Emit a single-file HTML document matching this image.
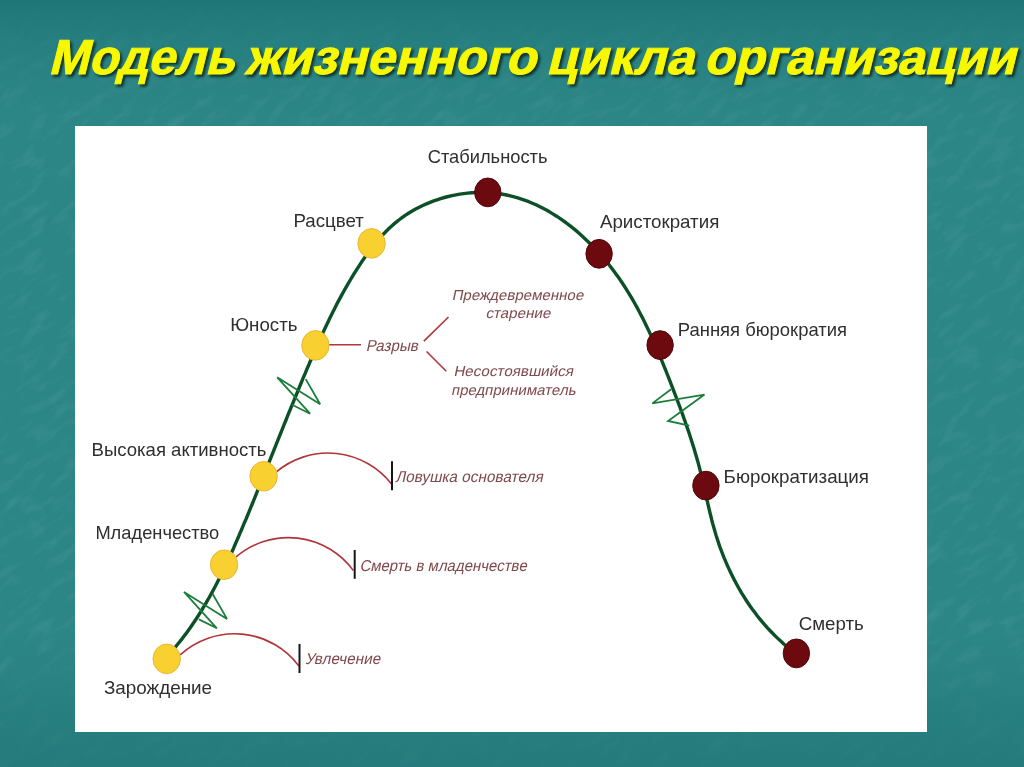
<!DOCTYPE html>
<html><head><meta charset="utf-8"><style>
html,body{margin:0;padding:0;}
body{width:1024px;height:767px;overflow:hidden;position:relative;background:#2c8686;font-family:"Liberation Sans",sans-serif;}
svg{position:absolute;left:0;top:0;will-change:transform;}
</style></head><body>
<svg width="1024" height="767" viewBox="0 0 1024 767" font-family="Liberation Sans, sans-serif">
<defs>
<filter id="tsh" x="-5%" y="-20%" width="110%" height="140%"><feGaussianBlur stdDeviation="0.9"/></filter>
<linearGradient id="bgv" x1="0" y1="0" x2="0" y2="1">
<stop offset="0" stop-color="#1d7474" stop-opacity="0.9"/>
<stop offset="0.06" stop-color="#217878" stop-opacity="0.5"/>
<stop offset="0.16" stop-color="#2e8080" stop-opacity="0"/>
<stop offset="0.82" stop-color="#2e8080" stop-opacity="0"/>
<stop offset="0.92" stop-color="#257a7a" stop-opacity="0.6"/>
<stop offset="1" stop-color="#237878" stop-opacity="0.8"/>
</linearGradient>
<filter id="tex" x="0" y="0" width="100%" height="100%">
<feTurbulence type="fractalNoise" baseFrequency="0.035 0.11" numOctaves="4" seed="3" result="n"/>
<feColorMatrix in="n" type="matrix" values="0 0 0 0 1  0 0 0 0 1  0 0 0 0 1  0 0 2.2 0 -1.05" result="w"/>
<feComposite in="w" in2="SourceGraphic" operator="in"/>
</filter>
</defs>
<rect x="0" y="0" width="1024" height="767" fill="#2c8686"/>
<g transform="rotate(-35 512 383)"><rect x="-400" y="-400" width="1824" height="1567" fill="#fff" filter="url(#tex)" opacity="0.065"/></g>
<rect x="0" y="0" width="1024" height="767" fill="url(#bgv)"/>
<text transform="translate(50.4,76.6) skewX(-14)" x="0" y="0" textLength="186.0" lengthAdjust="spacingAndGlyphs" font-size="49" font-weight="bold" fill="#0c2824" stroke="#0c2824" stroke-width="1.0" filter="url(#tsh)" opacity="0.85">Модель</text>
<text transform="translate(48.2,74.4) skewX(-14)" x="0" y="0" textLength="186.0" lengthAdjust="spacingAndGlyphs" font-size="49" font-weight="bold" fill="#f8f800" stroke="#f8f800" stroke-width="1.0">Модель</text>
<text transform="translate(247.2,76.6) skewX(-14)" x="0" y="0" textLength="290.6" lengthAdjust="spacingAndGlyphs" font-size="49" font-weight="bold" fill="#0c2824" stroke="#0c2824" stroke-width="1.0" filter="url(#tsh)" opacity="0.85">жизненного</text>
<text transform="translate(245.0,74.4) skewX(-14)" x="0" y="0" textLength="290.6" lengthAdjust="spacingAndGlyphs" font-size="49" font-weight="bold" fill="#f8f800" stroke="#f8f800" stroke-width="1.0">жизненного</text>
<text transform="translate(548.0,76.6) skewX(-14)" x="0" y="0" textLength="147.6" lengthAdjust="spacingAndGlyphs" font-size="49" font-weight="bold" fill="#0c2824" stroke="#0c2824" stroke-width="1.0" filter="url(#tsh)" opacity="0.85">цикла</text>
<text transform="translate(545.8,74.4) skewX(-14)" x="0" y="0" textLength="147.6" lengthAdjust="spacingAndGlyphs" font-size="49" font-weight="bold" fill="#f8f800" stroke="#f8f800" stroke-width="1.0">цикла</text>
<text transform="translate(705.8,76.6) skewX(-14)" x="0" y="0" textLength="311.4" lengthAdjust="spacingAndGlyphs" font-size="49" font-weight="bold" fill="#0c2824" stroke="#0c2824" stroke-width="1.0" filter="url(#tsh)" opacity="0.85">организации</text>
<text transform="translate(703.6,74.4) skewX(-14)" x="0" y="0" textLength="311.4" lengthAdjust="spacingAndGlyphs" font-size="49" font-weight="bold" fill="#f8f800" stroke="#f8f800" stroke-width="1.0">организации</text>
<rect x="75" y="126" width="852" height="606" fill="#ffffff"/>
<path d="M276,472.2 A80.5,80.5 0 0 1 391.5,484" fill="none" stroke="#b03539" stroke-width="1.6"/>
<line x1="392" y1="461.2" x2="392" y2="490.2" stroke="#151515" stroke-width="2"/>
<path d="M236.1,556.9 A80.5,80.5 0 0 1 353.4,570.6" fill="none" stroke="#b03539" stroke-width="1.6"/>
<line x1="354.7" y1="550" x2="354.7" y2="578.8" stroke="#151515" stroke-width="2"/>
<path d="M180.2,654.8 A80.5,80.5 0 0 1 298.9,666" fill="none" stroke="#b03539" stroke-width="1.6"/>
<line x1="299.5" y1="643.9" x2="299.5" y2="673" stroke="#151515" stroke-width="2"/>
<line x1="328" y1="344.7" x2="361" y2="344.7" stroke="#b03539" stroke-width="1.6"/>
<line x1="423.9" y1="341.1" x2="448.5" y2="317" stroke="#b03539" stroke-width="1.6"/>
<line x1="426.6" y1="351.5" x2="446.3" y2="371.2" stroke="#b03539" stroke-width="1.6"/>
<path d="M165.4,658.3 L168.1,655.3 L170.8,652.4 L173.4,649.3 L176.0,646.3 L178.5,643.2 L181.0,640.2 L183.4,637.0 L185.8,633.9 L188.1,630.7 L190.4,627.5 L192.6,624.2 L194.8,621.0 L197.0,617.7 L199.1,614.4 L201.2,611.1 L203.2,607.7 L205.3,604.3 L207.2,600.9 L209.2,597.5 L211.1,594.1 L213.0,590.6 L214.8,587.2 L216.6,583.7 L218.4,580.2 L220.2,576.7 L221.9,573.1 L223.7,569.6 L225.4,566.0 L227.0,562.5 L228.7,558.9 L230.3,555.3 L232.0,551.7 L233.6,548.1 L235.1,544.5 L236.7,540.9 L238.3,537.3 L239.8,533.6 L241.4,530.0 L242.9,526.4 L244.4,522.7 L246.0,519.1 L247.5,515.5 L249.0,511.8 L250.5,508.2 L252.0,504.5 L253.5,500.9 L255.0,497.2 L256.4,493.6 L257.9,489.9 L259.4,486.3 L260.9,482.6 L262.3,479.0 L263.8,475.3 L265.3,471.7 L266.7,468.0 L268.2,464.4 L269.7,460.7 L271.1,457.1 L272.6,453.4 L274.0,449.8 L275.5,446.1 L277.0,442.4 L278.4,438.8 L279.9,435.1 L281.4,431.5 L282.8,427.8 L284.3,424.2 L285.8,420.5 L287.2,416.9 L288.7,413.2 L290.2,409.6 L291.7,405.9 L293.2,402.3 L294.7,398.6 L296.2,395.0 L297.7,391.3 L299.2,387.7 L300.7,384.0 L302.2,380.4 L303.7,376.7 L305.3,373.1 L306.8,369.4 L308.4,365.8 L309.9,362.2 L311.5,358.5 L313.1,354.9 L314.7,351.2 L316.3,347.6 L317.9,344.0 L319.5,340.4 L321.1,336.8 L322.8,333.1 L324.4,329.5 L326.1,326.0 L327.8,322.4 L329.5,318.8 L331.3,315.2 L333.0,311.7 L334.8,308.2 L336.6,304.6 L338.4,301.1 L340.3,297.6 L342.2,294.2 L344.1,290.7 L346.0,287.3 L348.0,283.9 L350.0,280.5 L352.0,277.1 L354.1,273.7 L356.2,270.4 L358.3,267.1 L360.4,263.8 L362.6,260.5 L364.9,257.3 L367.1,254.1 L369.5,250.9 L371.8,247.8 L374.2,244.7 L376.7,241.7 L379.3,238.7 L381.8,235.8 L384.5,233.0 L387.2,230.2 L390.0,227.5 L392.9,224.9 L395.9,222.4 L398.9,220.0 L402.0,217.7 L405.2,215.4 L408.5,213.3 L411.8,211.3 L415.2,209.3 L418.7,207.5 L422.2,205.7 L425.8,204.1 L429.5,202.6 L433.1,201.1 L436.9,199.8 L440.6,198.6 L444.4,197.5 L448.2,196.5 L452.1,195.6 L455.9,194.8 L459.8,194.1 L463.7,193.6 L467.6,193.1 L471.6,192.8 L475.5,192.6 L479.4,192.5 L483.3,192.5 L487.3,192.6 L491.2,192.8 L495.0,193.2 L498.9,193.7 L502.7,194.3 L506.6,195.0 L510.3,195.9 L514.1,196.8 L517.8,197.9 L521.5,199.1 L525.2,200.4 L528.8,201.7 L532.4,203.2 L536.0,204.8 L539.5,206.5 L543.0,208.3 L546.4,210.1 L549.9,212.1 L553.2,214.1 L556.6,216.2 L559.9,218.4 L563.1,220.7 L566.4,223.0 L569.5,225.4 L572.7,227.9 L575.8,230.4 L578.8,233.0 L581.8,235.7 L584.7,238.4 L587.6,241.2 L590.5,244.0 L593.3,246.8 L596.0,249.7 L598.7,252.7 L601.4,255.7 L604.0,258.7 L606.5,261.7 L609.0,264.8 L611.4,267.9 L613.8,271.0 L616.1,274.2 L618.4,277.3 L620.6,280.5 L622.8,283.8 L624.9,287.0 L627.0,290.3 L629.0,293.6 L631.0,296.9 L632.9,300.2 L634.8,303.5 L636.7,306.9 L638.5,310.3 L640.3,313.7 L642.1,317.1 L643.8,320.5 L645.5,324.0 L647.2,327.5 L648.8,330.9 L650.5,334.4 L652.1,337.9 L653.6,341.5 L655.2,345.0 L656.7,348.5 L658.2,352.1 L659.7,355.7 L661.2,359.3 L662.7,362.8 L664.1,366.4 L665.6,370.0 L667.0,373.7 L668.5,377.3 L669.9,380.9 L671.3,384.6 L672.7,388.2 L674.1,391.9 L675.5,395.5 L676.9,399.2 L678.3,402.8 L679.7,406.5 L681.0,410.2 L682.4,413.9 L683.7,417.6 L685.0,421.3 L686.3,425.0 L687.6,428.8 L688.9,432.5 L690.1,436.2 L691.3,440.0 L692.5,443.7 L693.7,447.5 L694.8,451.3 L695.9,455.0 L697.0,458.8 L698.1,462.6 L699.1,466.4 L700.1,470.3 L701.1,474.1 L702.0,477.9 L702.9,481.8 L703.8,485.6 L704.7,489.4 L705.5,493.3 L706.4,497.2 L707.3,501.0 L708.1,504.8 L709.0,508.7 L709.9,512.5 L710.9,516.4 L711.8,520.2 L712.8,524.0 L713.9,527.8 L715.0,531.6 L716.1,535.4 L717.3,539.1 L718.5,542.8 L719.8,546.6 L721.2,550.3 L722.6,554.0 L724.0,557.6 L725.5,561.2 L727.1,564.9 L728.7,568.4 L730.4,572.0 L732.1,575.5 L733.9,579.1 L735.7,582.5 L737.6,586.0 L739.5,589.4 L741.5,592.8 L743.6,596.1 L745.7,599.5 L747.8,602.7 L750.0,606.0 L752.3,609.2 L754.7,612.3 L757.0,615.5 L759.5,618.6 L762.0,621.6 L764.6,624.6 L767.2,627.6 L769.9,630.5 L772.6,633.3 L775.4,636.1 L778.3,638.9 L781.2,641.6 L784.1,644.3 L787.2,646.9 L790.3,649.5 L793.4,652.0" fill="none" stroke="#0c5026" stroke-width="3.4" stroke-linecap="round" stroke-linejoin="round"/>
<path d="M305.7,379.1 L320.2,404.3 L277.2,377.3 L310.1,413.7 L292.1,404.8" fill="none" stroke="#1c7e3a" stroke-width="1.8" stroke-linejoin="miter"/>
<path d="M212.5,593.7 L227.0,618.9 L184.0,591.9 L216.9,628.3 L198.9,619.4" fill="none" stroke="#1c7e3a" stroke-width="1.8" stroke-linejoin="miter"/>
<path d="M671.1,389.3 L652.3,403.4 L704.5,394.6 L668.1,421.0 L689.3,425.7" fill="none" stroke="#1c7e3a" stroke-width="1.8" stroke-linejoin="miter"/>
<ellipse cx="166.7" cy="658.9" rx="13.7" ry="14.8" fill="#f8d030" stroke="#e6b83a" stroke-width="1"/>
<ellipse cx="224.1" cy="564.7" rx="13.7" ry="14.8" fill="#f8d030" stroke="#e6b83a" stroke-width="1"/>
<ellipse cx="263.6" cy="476.3" rx="13.7" ry="14.8" fill="#f8d030" stroke="#e6b83a" stroke-width="1"/>
<ellipse cx="315.4" cy="345.4" rx="13.7" ry="14.8" fill="#f8d030" stroke="#e6b83a" stroke-width="1"/>
<ellipse cx="371.6" cy="243.4" rx="13.7" ry="14.8" fill="#f8d030" stroke="#e6b83a" stroke-width="1"/>
<ellipse cx="487.8" cy="192.4" rx="13.2" ry="14.4" fill="#6c0a0f" stroke="#4e080b" stroke-width="1"/>
<ellipse cx="599.1" cy="253.8" rx="13.2" ry="14.4" fill="#6c0a0f" stroke="#4e080b" stroke-width="1"/>
<ellipse cx="660.1" cy="345.1" rx="13.2" ry="14.4" fill="#6c0a0f" stroke="#4e080b" stroke-width="1"/>
<ellipse cx="705.9" cy="485.6" rx="13.2" ry="14.4" fill="#6c0a0f" stroke="#4e080b" stroke-width="1"/>
<ellipse cx="796.4" cy="653.4" rx="13.2" ry="14.4" fill="#6c0a0f" stroke="#4e080b" stroke-width="1"/>
<text x="427.7" y="162.6" textLength="119.80000000000003" lengthAdjust="spacingAndGlyphs" font-size="18.5" fill="#2f2f2f">Стабильность</text>
<text x="293.5" y="227.3" textLength="70.30000000000003" lengthAdjust="spacingAndGlyphs" font-size="18.5" fill="#2f2f2f">Расцвет</text>
<text x="599.9" y="227.8" textLength="119.39999999999993" lengthAdjust="spacingAndGlyphs" font-size="18.5" fill="#2f2f2f">Аристократия</text>
<text x="230.20000000000002" y="331" textLength="67.3" lengthAdjust="spacingAndGlyphs" font-size="18.5" fill="#2f2f2f">Юность</text>
<text x="677.8" y="336.2" textLength="169.2" lengthAdjust="spacingAndGlyphs" font-size="18.5" fill="#2f2f2f">Ранняя бюрократия</text>
<text x="91.5" y="456.4" textLength="175.0" lengthAdjust="spacingAndGlyphs" font-size="18.5" fill="#2f2f2f">Высокая активность</text>
<text x="723.5999999999999" y="482.9" textLength="145.40000000000003" lengthAdjust="spacingAndGlyphs" font-size="18.5" fill="#2f2f2f">Бюрократизация</text>
<text x="95.39999999999999" y="539.4" textLength="123.90000000000002" lengthAdjust="spacingAndGlyphs" font-size="18.5" fill="#2f2f2f">Младенчество</text>
<text x="798.6999999999999" y="630" textLength="65.09999999999998" lengthAdjust="spacingAndGlyphs" font-size="18.5" fill="#2f2f2f">Смерть</text>
<text x="103.89999999999999" y="694.2" textLength="108.2" lengthAdjust="spacingAndGlyphs" font-size="18.5" fill="#2f2f2f">Зарождение</text>
<text transform="translate(365.7,350.5) skewX(-12)" x="0" y="0" textLength="52.2" lengthAdjust="spacingAndGlyphs" font-size="15.8" fill="#7f4a4c">Разрыв</text>
<text transform="translate(451.8,299.6) skewX(-12)" x="0" y="0" textLength="131.5" lengthAdjust="spacingAndGlyphs" font-size="14.5" fill="#7f4a4c">Преждевременное</text>
<text transform="translate(485.5,318.3) skewX(-12)" x="0" y="0" textLength="64.9" lengthAdjust="spacingAndGlyphs" font-size="14.5" fill="#7f4a4c">старение</text>
<text transform="translate(453.4,376.2) skewX(-12)" x="0" y="0" textLength="119.7" lengthAdjust="spacingAndGlyphs" font-size="14.5" fill="#7f4a4c">Несостоявшийся</text>
<text transform="translate(451.0,395) skewX(-12)" x="0" y="0" textLength="124.5" lengthAdjust="spacingAndGlyphs" font-size="14.5" fill="#7f4a4c">предприниматель</text>
<text transform="translate(395.2,482.2) skewX(-12)" x="0" y="0" textLength="147.5" lengthAdjust="spacingAndGlyphs" font-size="15.8" fill="#7f4a4c">Ловушка основателя</text>
<text transform="translate(359.4,571.3) skewX(-12)" x="0" y="0" textLength="167.3" lengthAdjust="spacingAndGlyphs" font-size="15.8" fill="#7f4a4c">Смерть в младенчестве</text>
<text transform="translate(305.0,663.9) skewX(-12)" x="0" y="0" textLength="75.1" lengthAdjust="spacingAndGlyphs" font-size="15.8" fill="#7f4a4c">Увлечение</text>
</svg>
</body></html>
